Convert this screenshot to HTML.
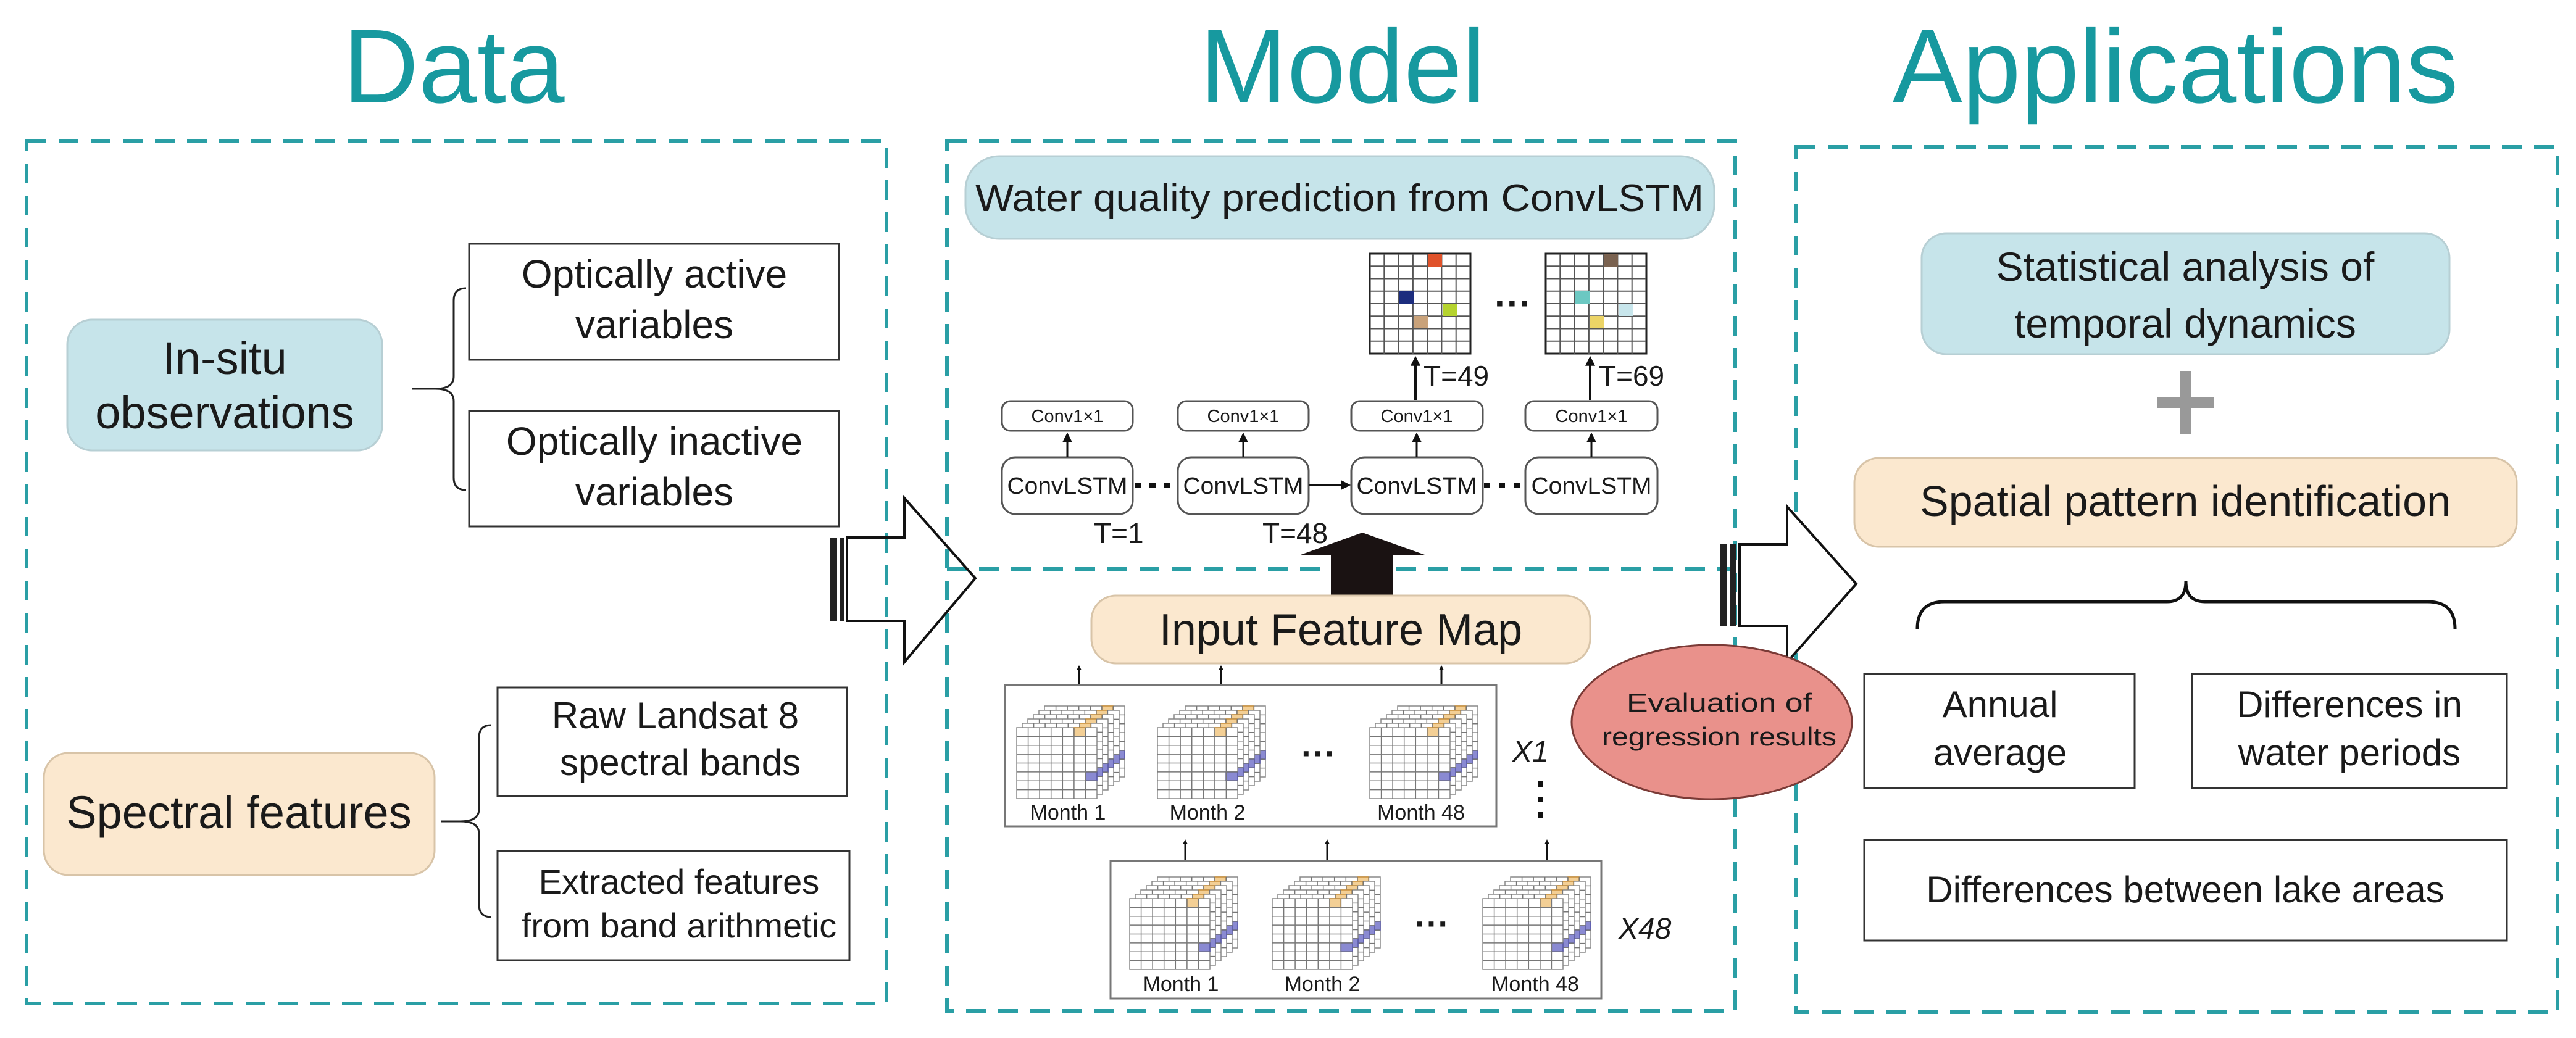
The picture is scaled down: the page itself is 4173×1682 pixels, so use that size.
<!DOCTYPE html>
<html><head><meta charset="utf-8"><style>html,body{margin:0;padding:0;background:#fff}svg{display:block}text{font-family:"Liberation Sans",Arial,sans-serif;fill:#1a1a1a}</style></head><body>
<svg width="4173" height="1682" viewBox="0 0 4173 1682" xmlns="http://www.w3.org/2000/svg">
<defs>
<marker id="ah" markerWidth="8" markerHeight="8" refX="4" refY="4" orient="auto" markerUnits="userSpaceOnUse"><path d="M0,0 L8,4 L0,8 z" fill="#111"/></marker>
<marker id="ah2" viewBox="0 0 10 10" markerWidth="18" markerHeight="16" refX="8" refY="5" orient="auto" markerUnits="userSpaceOnUse"><path d="M0,0 L10,5 L0,10 z" fill="#111"/></marker>
<symbol id="layer" overflow="visible">
<rect x="0" y="0" width="130" height="115" fill="#fff" stroke="#888" stroke-width="1.5"/>
<rect x="93" y="0" width="18" height="14" fill="#f3cf95" stroke="#c98f3a" stroke-width="1.5"/>
<rect x="111" y="72" width="19" height="14" fill="#8a8ad2" stroke="#5555a8" stroke-width="1.5"/>
<path d="M18.6,0V115M37.1,0V115M55.7,0V115M74.3,0V115M92.9,0V115M111.4,0V115M0,14.4H130M0,28.8H130M0,43.1H130M0,57.5H130M0,71.9H130M0,86.3H130M0,100.6H130" stroke="#777" stroke-width="1.5" fill="none"/>
</symbol>
<symbol id="cube" overflow="visible">
<use href="#layer" x="45" y="10"/><use href="#layer" x="36" y="17"/><use href="#layer" x="27" y="24"/><use href="#layer" x="18" y="31"/><use href="#layer" x="9" y="38"/><use href="#layer" x="0" y="45"/>
</symbol>
<symbol id="grid" overflow="visible">
<rect x="0" y="0" width="163" height="162" fill="#fff" stroke="#222" stroke-width="3"/>
<path d="M23.3,0V162M46.6,0V162M69.9,0V162M93.1,0V162M116.4,0V162M139.7,0V162M0,20.3H163M0,40.5H163M0,60.8H163M0,81H163M0,101.3H163M0,121.5H163M0,141.8H163" stroke="#555" stroke-width="2" fill="none"/>
</symbol>
</defs>

<!-- Titles -->
<text x="735" y="166" font-size="170" text-anchor="middle" style="fill:#17999f">Data</text>
<text x="2175" y="166" font-size="170" text-anchor="middle" style="fill:#17999f">Model</text>
<text x="3524" y="166" font-size="170" text-anchor="middle" style="fill:#17999f">Applications</text>

<!-- Dashed boxes -->
<g fill="none" stroke="#2a9fa5" stroke-width="6" stroke-dasharray="32 20">
<rect x="43" y="229" width="1393" height="1397"/>
<rect x="1534" y="229" width="1277" height="1409"/>
<line x1="1534" y1="922" x2="2811" y2="922"/>
<rect x="2909" y="238" width="1234" height="1402"/>
</g>

<!-- Data panel -->
<rect x="109" y="518" width="510" height="212" rx="40" fill="#c6e4ea" stroke="#b7cfd4" stroke-width="3"/>
<text x="364" y="606" font-size="74" text-anchor="middle">In-situ</text>
<text x="364" y="694" font-size="74" text-anchor="middle">observations</text>
<path d="M755,467 Q735,467 735,487 L735,610 Q735,630 705,630 L668,630 M705,630 Q735,630 735,650 L735,774 Q735,794 755,794" fill="none" stroke="#222" stroke-width="3"/>
<rect x="760" y="395" width="599" height="188" fill="#fff" stroke="#333" stroke-width="3"/>
<text x="1060" y="466" font-size="64" text-anchor="middle">Optically active</text>
<text x="1060" y="548" font-size="64" text-anchor="middle">variables</text>
<rect x="760" y="666" width="599" height="187" fill="#fff" stroke="#333" stroke-width="3"/>
<text x="1060" y="737" font-size="64" text-anchor="middle">Optically inactive</text>
<text x="1060" y="819" font-size="64" text-anchor="middle">variables</text>

<rect x="71" y="1220" width="633" height="198" rx="40" fill="#fbe8cf" stroke="#d8c4a8" stroke-width="3"/>
<text x="387" y="1342" font-size="74" text-anchor="middle">Spectral features</text>
<path d="M796,1175 Q776,1175 776,1195 L776,1311 Q776,1331 746,1331 L714,1331 M746,1331 Q776,1331 776,1351 L776,1466 Q776,1486 796,1486" fill="none" stroke="#222" stroke-width="3"/>
<rect x="806" y="1114" width="566" height="176" fill="#fff" stroke="#333" stroke-width="3"/>
<text x="1094" y="1180" font-size="60" text-anchor="middle">Raw Landsat 8</text>
<text x="1102" y="1256" font-size="60" text-anchor="middle">spectral bands</text>
<rect x="806" y="1379" width="570" height="177" fill="#fff" stroke="#333" stroke-width="3"/>
<text x="1100" y="1448" font-size="56" text-anchor="middle">Extracted features</text>
<text x="1100" y="1519" font-size="56" text-anchor="middle">from band arithmetic</text>

<!-- Arrow 1 -->
<rect x="1345" y="871" width="11" height="135" fill="#222"/>
<rect x="1361" y="871" width="6" height="135" fill="#222"/>
<polygon points="1372,871 1465,871 1465,807 1580,937 1465,1073 1465,1006 1372,1006" fill="none" stroke="#111" stroke-width="4"/>

<!-- Model top -->
<rect x="1564" y="253" width="1213" height="134" rx="55" fill="#c6e4ea" stroke="#b7cfd4" stroke-width="3"/>
<text x="2170" y="342" font-size="62" text-anchor="middle" textLength="1180" lengthAdjust="spacingAndGlyphs">Water quality prediction from ConvLSTM</text>

<use href="#grid" x="2219" y="411"/>
<rect x="2313" y="412" width="23" height="20" fill="#e0522a"/>
<rect x="2267" y="472" width="23" height="20" fill="#1c2d7e"/>
<rect x="2337" y="492" width="23" height="20" fill="#b5d32e"/>
<rect x="2290" y="512" width="23" height="20" fill="#c9a27a"/>
<use href="#grid" x="2504" y="411"/>
<rect x="2598" y="412" width="23" height="20" fill="#7a6250"/>
<rect x="2552" y="472" width="23" height="20" fill="#6cc8c2"/>
<rect x="2622" y="492" width="23" height="20" fill="#c8e6ec"/>
<rect x="2575" y="512" width="23" height="20" fill="#ecd466"/>
<text x="2451" y="512" font-size="60" text-anchor="middle" font-weight="bold">···</text>

<line x1="2293" y1="648" x2="2293" y2="580" stroke="#111" stroke-width="4" marker-end="url(#ah2)"/>
<line x1="2576" y1="648" x2="2576" y2="580" stroke="#111" stroke-width="4" marker-end="url(#ah2)"/>
<text x="2306" y="625" font-size="46">T=49</text>
<text x="2590" y="625" font-size="46">T=69</text>

<g fill="#fff" stroke="#555" stroke-width="3">
<rect x="1623" y="650" width="212" height="48" rx="14"/>
<rect x="1908" y="650" width="212" height="48" rx="14"/>
<rect x="2189" y="650" width="213" height="48" rx="14"/>
<rect x="2471" y="650" width="214" height="48" rx="14"/>
<rect x="1623" y="741" width="212" height="92" rx="22"/>
<rect x="1908" y="741" width="212" height="92" rx="22"/>
<rect x="2189" y="741" width="213" height="92" rx="22"/>
<rect x="2471" y="741" width="214" height="92" rx="22"/>
</g>
<g font-size="29" text-anchor="middle">
<text x="1729" y="684">Conv1×1</text><text x="2014" y="684">Conv1×1</text><text x="2295" y="684">Conv1×1</text><text x="2578" y="684">Conv1×1</text>
</g>
<g font-size="38" text-anchor="middle">
<text x="1729" y="800" textLength="195" lengthAdjust="spacingAndGlyphs">ConvLSTM</text>
<text x="2014" y="800" textLength="195" lengthAdjust="spacingAndGlyphs">ConvLSTM</text>
<text x="2295" y="800" textLength="195" lengthAdjust="spacingAndGlyphs">ConvLSTM</text>
<text x="2578" y="800" textLength="195" lengthAdjust="spacingAndGlyphs">ConvLSTM</text>
</g>
<g stroke="#111" stroke-width="3">
<line x1="1729" y1="740" x2="1729" y2="704" marker-end="url(#ah2)"/>
<line x1="2014" y1="740" x2="2014" y2="704" marker-end="url(#ah2)"/>
<line x1="2295" y1="740" x2="2295" y2="704" marker-end="url(#ah2)"/>
<line x1="2578" y1="740" x2="2578" y2="704" marker-end="url(#ah2)"/>
<line x1="2120" y1="786" x2="2185" y2="786" stroke-width="4" marker-end="url(#ah2)"/>
<line x1="1838" y1="786" x2="1906" y2="786" stroke-width="8" stroke-dasharray="10 14"/>
<line x1="2404" y1="786" x2="2470" y2="786" stroke-width="8" stroke-dasharray="10 14"/>
</g>
<text x="1772" y="880" font-size="46">T=1</text>
<text x="2045" y="880" font-size="46">T=48</text>

<polygon points="2107,899 2207,863 2308,899 2257,899 2257,977 2156,977 2156,899" fill="#1a1212"/>

<!-- Model bottom -->
<rect x="1768" y="965" width="808" height="110" rx="40" fill="#fbe8cf" stroke="#d8c4a8" stroke-width="3"/>
<text x="2172" y="1045" font-size="72" text-anchor="middle">Input Feature Map</text>
<g stroke="#111" stroke-width="3">
<line x1="1748" y1="1110" x2="1748" y2="1082" marker-end="url(#ah)"/>
<line x1="1978" y1="1110" x2="1978" y2="1082" marker-end="url(#ah)"/>
<line x1="2335" y1="1110" x2="2335" y2="1082" marker-end="url(#ah)"/>
<line x1="1920" y1="1393" x2="1920" y2="1364" marker-end="url(#ah)"/>
<line x1="2150" y1="1393" x2="2150" y2="1364" marker-end="url(#ah)"/>
<line x1="2506" y1="1393" x2="2506" y2="1364" marker-end="url(#ah)"/>
</g>
<rect x="1628" y="1110" width="796" height="229" fill="#fff" stroke="#777" stroke-width="3"/>
<use href="#cube" x="1647" y="1134"/>
<use href="#cube" x="1875" y="1134"/>
<use href="#cube" x="2219" y="1134"/>
<g font-size="34" text-anchor="middle">
<text x="1730" y="1328">Month 1</text><text x="1956" y="1328">Month 2</text><text x="2302" y="1328">Month 48</text>
</g>
<text x="2136" y="1240" font-size="56" text-anchor="middle" font-weight="bold">···</text>
<text x="2450" y="1234" font-size="48" font-style="italic">X1</text>
<g fill="#111"><rect x="2491" y="1266" width="8" height="9"/><rect x="2491" y="1291" width="8" height="9"/><rect x="2491" y="1316" width="8" height="9"/></g>

<rect x="1799" y="1395" width="795" height="223" fill="#fff" stroke="#777" stroke-width="3"/>
<use href="#cube" x="1830" y="1411"/>
<use href="#cube" x="2061" y="1411"/>
<use href="#cube" x="2402" y="1411"/>
<g font-size="34" text-anchor="middle">
<text x="1913" y="1606">Month 1</text><text x="2142" y="1606">Month 2</text><text x="2487" y="1606">Month 48</text>
</g>
<text x="2320" y="1516" font-size="56" text-anchor="middle" font-weight="bold">···</text>
<text x="2622" y="1521" font-size="48" font-style="italic">X48</text>

<!-- Arrow 2 -->
<rect x="2786" y="882" width="12" height="132" fill="#222"/>
<rect x="2803" y="882" width="10" height="132" fill="#222"/>
<polygon points="2818,882 2895,882 2895,821 3007,946 2895,1073 2895,1014 2818,1014" fill="#fff" stroke="#111" stroke-width="4"/>

<!-- Ellipse -->
<ellipse cx="2773" cy="1170" rx="227" ry="125" fill="#e9918b" stroke="#7a3a36" stroke-width="3"/>
<text x="2785" y="1153" font-size="42" text-anchor="middle" textLength="300" lengthAdjust="spacingAndGlyphs">Evaluation of</text>
<text x="2785" y="1208" font-size="42" text-anchor="middle" textLength="380" lengthAdjust="spacingAndGlyphs">regression results</text>

<!-- Applications -->
<rect x="3113" y="378" width="855" height="196" rx="40" fill="#c6e4ea" stroke="#b7cfd4" stroke-width="3"/>
<text x="3540" y="455" font-size="66" text-anchor="middle">Statistical analysis of</text>
<text x="3540" y="547" font-size="66" text-anchor="middle">temporal dynamics</text>
<rect x="3532" y="601" width="18" height="102" fill="#999"/>
<rect x="3494" y="643" width="93" height="18" fill="#999"/>
<rect x="3004" y="742" width="1073" height="144" rx="40" fill="#fbe8cf" stroke="#d8c4a8" stroke-width="3"/>
<text x="3540" y="836" font-size="70" text-anchor="middle">Spatial pattern identification</text>
<path d="M3106,1019 Q3106,975 3150,975 L3510,975 Q3541,975 3541,942 Q3541,975 3572,975 L3933,975 Q3977,975 3977,1019" fill="none" stroke="#111" stroke-width="5"/>
<rect x="3020" y="1092" width="438" height="185" fill="#fff" stroke="#333" stroke-width="3"/>
<text x="3240" y="1162" font-size="60" text-anchor="middle">Annual</text>
<text x="3240" y="1240" font-size="60" text-anchor="middle">average</text>
<rect x="3551" y="1092" width="510" height="185" fill="#fff" stroke="#333" stroke-width="3"/>
<text x="3806" y="1162" font-size="60" text-anchor="middle">Differences in</text>
<text x="3806" y="1240" font-size="60" text-anchor="middle">water periods</text>
<rect x="3020" y="1361" width="1041" height="163" fill="#fff" stroke="#333" stroke-width="3"/>
<text x="3540" y="1462" font-size="60" text-anchor="middle">Differences between lake areas</text>
</svg>
</body></html>
